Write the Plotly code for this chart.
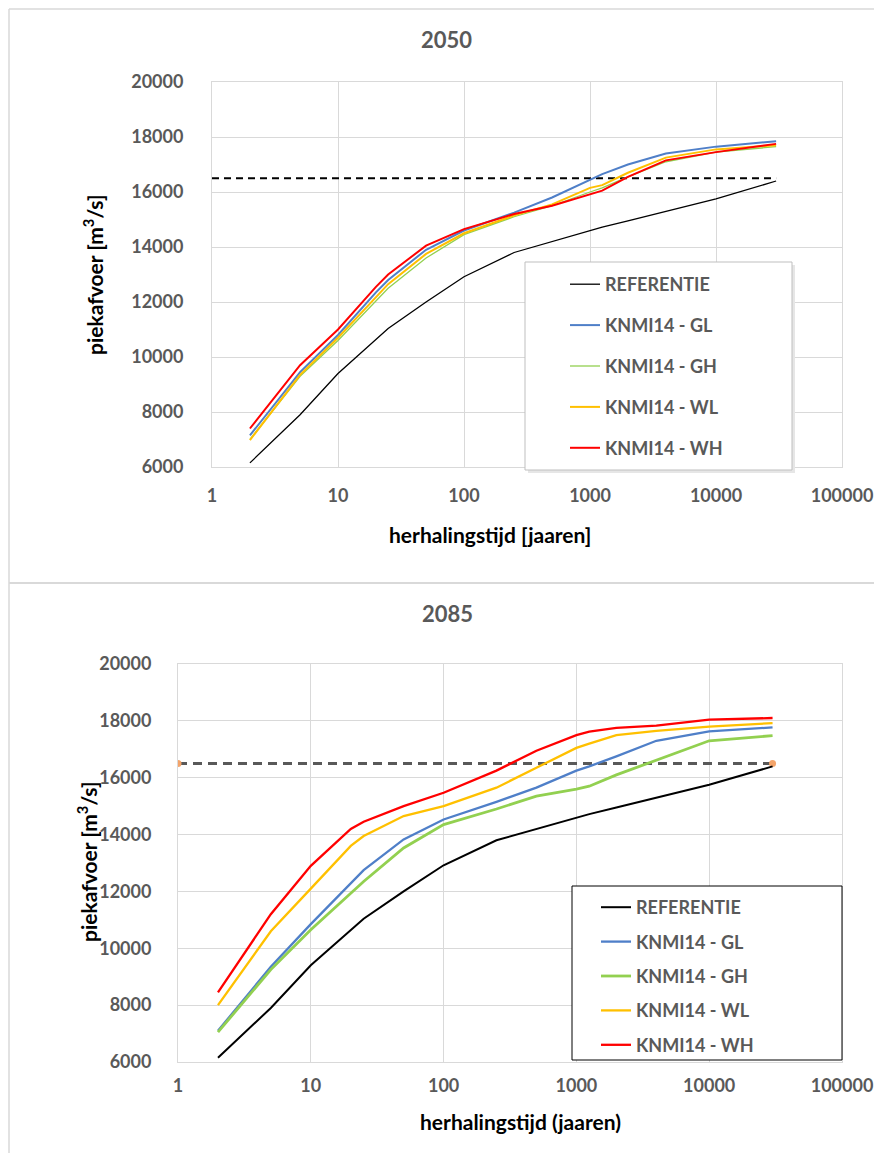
import plotly.graph_objects as go

# page offset of the plot div (browser body margin)
OFF = 8
W, H = 882 - OFF, 1153 - OFF

# ---------------- data ----------------
T = [2, 5, 10, 20, 25, 50, 100, 250, 500, 1000, 1250, 2000, 4000, 10000, 30000]
series_names = ["REFERENTIE", "KNMI14 - GL", "KNMI14 - GH", "KNMI14 - WL", "KNMI14 - WH"]

ref = [6150, 7900, 9400, 10620, 11040, 12000, 12920, 13800, 14200, 14600, 14720, 14950, 15300, 15750, 16400]

gl_2050 = [7150, 9450, 10800, 12350, 12800, 13900, 14600, 15250, 15800, 16450, 16650, 17000, 17400, 17650, 17850]
gh_2050 = [7000, 9300, 10600, 12050, 12500, 13600, 14450, 15100, 15500, 16000, 16150, 16550, 17100, 17450, 17650]
wl_2050 = [6980, 9350, 10700, 12200, 12650, 13750, 14500, 15150, 15550, 16150, 16250, 16700, 17250, 17550, 17700]
wh_2050 = [7400, 9700, 11000, 12550, 13000, 14050, 14650, 15200, 15500, 15900, 16050, 16550, 17150, 17450, 17750]

gl_2085 = [7100, 9350, 10850, 12300, 12750, 13830, 14530, 15150, 15650, 16250, 16400, 16750, 17300, 17630, 17770]
gh_2085 = [7050, 9250, 10650, 11950, 12350, 13530, 14350, 14900, 15350, 15600, 15700, 16100, 16620, 17300, 17480]
wl_2085 = [8000, 10600, 12100, 13600, 13950, 14650, 15000, 15650, 16350, 17050, 17200, 17500, 17650, 17800, 17920]
wh_2085 = [8450, 11200, 12900, 14200, 14450, 15000, 15470, 16250, 16950, 17500, 17620, 17750, 17830, 18040, 18100]

threshold_x = [1, 30000]
threshold_y = [16500, 16500]

x_ticks = [1, 10, 100, 1000, 10000, 100000]
y_ticks = [6000, 8000, 10000, 12000, 14000, 16000, 18000, 20000]

colors = ["#000000", "#4F7FC8", "#92D050", "#FFC000", "#FF0000"]

FONT = "Lato"
GRAY = "#595959"
GRID = "#D9D9D9"


def px_x(p):
    return (p - OFF) / W


def px_y(p):
    return 1 - (p - OFF) / H


fig = go.Figure()

# ---------------- top (2050) ----------------
fig.add_trace(go.Scatter(x=threshold_x, y=threshold_y, mode="lines",
                         line=dict(color="#000000", width=2, dash="7px,5px"),
                         showlegend=False, xaxis="x", yaxis="y", hoverinfo="skip"))
top_widths = [1.3, 2, 1.3, 2, 2]
for name, vals, c, w in zip(series_names, [ref, gl_2050, gh_2050, wl_2050, wh_2050], colors, top_widths):
    fig.add_trace(go.Scatter(x=T, y=vals, mode="lines", name=name,
                             line=dict(color=c, width=w),
                             xaxis="x", yaxis="y", legend="legend",
                             legendgroup="a" + name))

# ---------------- bottom (2085) ----------------
fig.add_trace(go.Scatter(x=threshold_x, y=threshold_y, mode="lines+markers",
                         line=dict(color=GRAY, width=3, dash="9px,6px"),
                         marker=dict(color="#F4A46A", size=7),
                         showlegend=False, xaxis="x2", yaxis="y2", hoverinfo="skip"))
bot_widths = [2, 2.3, 2.8, 2.3, 2.3]
for name, vals, c, w in zip(series_names, [ref, gl_2085, gh_2085, wl_2085, wh_2085], colors, bot_widths):
    fig.add_trace(go.Scatter(x=T, y=vals, mode="lines", name=name,
                             line=dict(color=c, width=w),
                             xaxis="x2", yaxis="y2", legend="legend2",
                             legendgroup="b" + name))

tickfont = dict(family=FONT, size=18, color=GRAY, weight="bold")


def xaxis(domain, anchor):
    return dict(type="log", range=[0, 5], domain=domain, anchor=anchor,
                tickvals=x_ticks, ticktext=[str(v) for v in x_ticks],
                showgrid=True, gridcolor=GRID, gridwidth=1,
                showline=True, linecolor=GRID, mirror=True,
                zeroline=False, tickfont=tickfont, ticks="")


def yaxis(domain, anchor):
    return dict(range=[6000, 20000], domain=domain, anchor=anchor,
                tickvals=y_ticks, ticktext=[str(v) for v in y_ticks],
                showgrid=True, gridcolor=GRID, gridwidth=1,
                showline=True, linecolor=GRID, mirror=True,
                zeroline=False, tickfont=tickfont, ticks="")


top_x = [px_x(212), px_x(842)]
top_y = [px_y(467), px_y(82)]
bot_x = [px_x(178), px_x(842)]
bot_y = [px_y(1062), px_y(664)]

xa1 = xaxis(top_x, "y"); xa1["ticklabelstandoff"] = 12
ya1 = yaxis(top_y, "x"); ya1["ticklabelstandoff"] = 24
xa2 = xaxis(bot_x, "y2"); xa2["ticklabelstandoff"] = 7
ya2 = yaxis(bot_y, "x2"); ya2["ticklabelstandoff"] = 22

legend_font = dict(family=FONT, size=18, color=GRAY, weight="bold")

shapes = [
    # outer frame lines
    dict(type="line", xref="paper", yref="paper", x0=px_x(9), x1=px_x(9), y0=0, y1=px_y(9),
         line=dict(color=GRID, width=1.5)),
    dict(type="line", xref="paper", yref="paper", x0=px_x(9), x1=1, y0=px_y(9), y1=px_y(9),
         line=dict(color=GRID, width=1.5)),
    dict(type="line", xref="paper", yref="paper", x0=px_x(9), x1=1, y0=px_y(583), y1=px_y(583),
         line=dict(color=GRID, width=2)),
    # legend boxes
    dict(type="rect", xref="paper", yref="paper", x0=px_x(528), x1=px_x(795), y0=px_y(473), y1=px_y(265),
         line=dict(width=0), fillcolor="#E6E6E6", layer="above"),
    dict(type="rect", xref="paper", yref="paper", x0=px_x(525), x1=px_x(792), y0=px_y(470), y1=px_y(262),
         line=dict(color="#BFBFBF", width=1), fillcolor="white", layer="above"),
    dict(type="rect", xref="paper", yref="paper", x0=px_x(572), x1=px_x(842), y0=px_y(1060), y1=px_y(886),
         line=dict(color="#000000", width=1), fillcolor="white", layer="above"),
]

annotations = [
    dict(text="2050", x=px_x(446), y=px_y(40), xref="paper", yref="paper", showarrow=False,
         font=dict(family=FONT, size=22, color=GRAY, weight="bold"), xanchor="center", yanchor="middle"),
    dict(text="2085", x=px_x(447), y=px_y(613), xref="paper", yref="paper", showarrow=False,
         font=dict(family=FONT, size=22, color=GRAY, weight="bold"), xanchor="center", yanchor="middle"),
    dict(text="piekafvoer [m<sup>3</sup>/s]", x=px_x(93), y=px_y(275), xref="paper", yref="paper",
         showarrow=False, textangle=-90,
         font=dict(family=FONT, size=21, color="#000000", weight="bold"), xanchor="center", yanchor="middle"),
    dict(text="piekafvoer [m<sup>3</sup>/s]", x=px_x(87), y=px_y(862), xref="paper", yref="paper",
         showarrow=False, textangle=-90,
         font=dict(family=FONT, size=21, color="#000000", weight="bold"), xanchor="center", yanchor="middle"),
    dict(text="herhalingstijd [jaaren]", x=px_x(490), y=px_y(534), xref="paper", yref="paper",
         showarrow=False, font=dict(family=FONT, size=21, color="#000000", weight="bold"),
         xanchor="center", yanchor="middle"),
    dict(text="herhalingstijd (jaaren)", x=px_x(520), y=px_y(1121), xref="paper", yref="paper",
         showarrow=False, font=dict(family=FONT, size=21, color="#000000", weight="bold"),
         xanchor="center", yanchor="middle"),
]

fig.update_layout(
    width=W, height=H,
    margin=dict(l=0, r=0, t=0, b=0, autoexpand=False),
    paper_bgcolor="white", plot_bgcolor="white",
    xaxis=xa1, yaxis=ya1, xaxis2=xa2, yaxis2=ya2,
    shapes=shapes, annotations=annotations,
    legend=dict(x=px_x(565), y=px_y(266), xanchor="left", yanchor="top",
                bgcolor="rgba(0,0,0,0)", borderwidth=0, font=legend_font,
                tracegroupgap=14.5, itemwidth=30),
    legend2=dict(x=px_x(596), y=px_y(889), xanchor="left", yanchor="top",
                 bgcolor="rgba(0,0,0,0)", borderwidth=0, font=legend_font,
                 tracegroupgap=8, itemwidth=30),
    showlegend=True,
)

fig.write_html("out.html")
